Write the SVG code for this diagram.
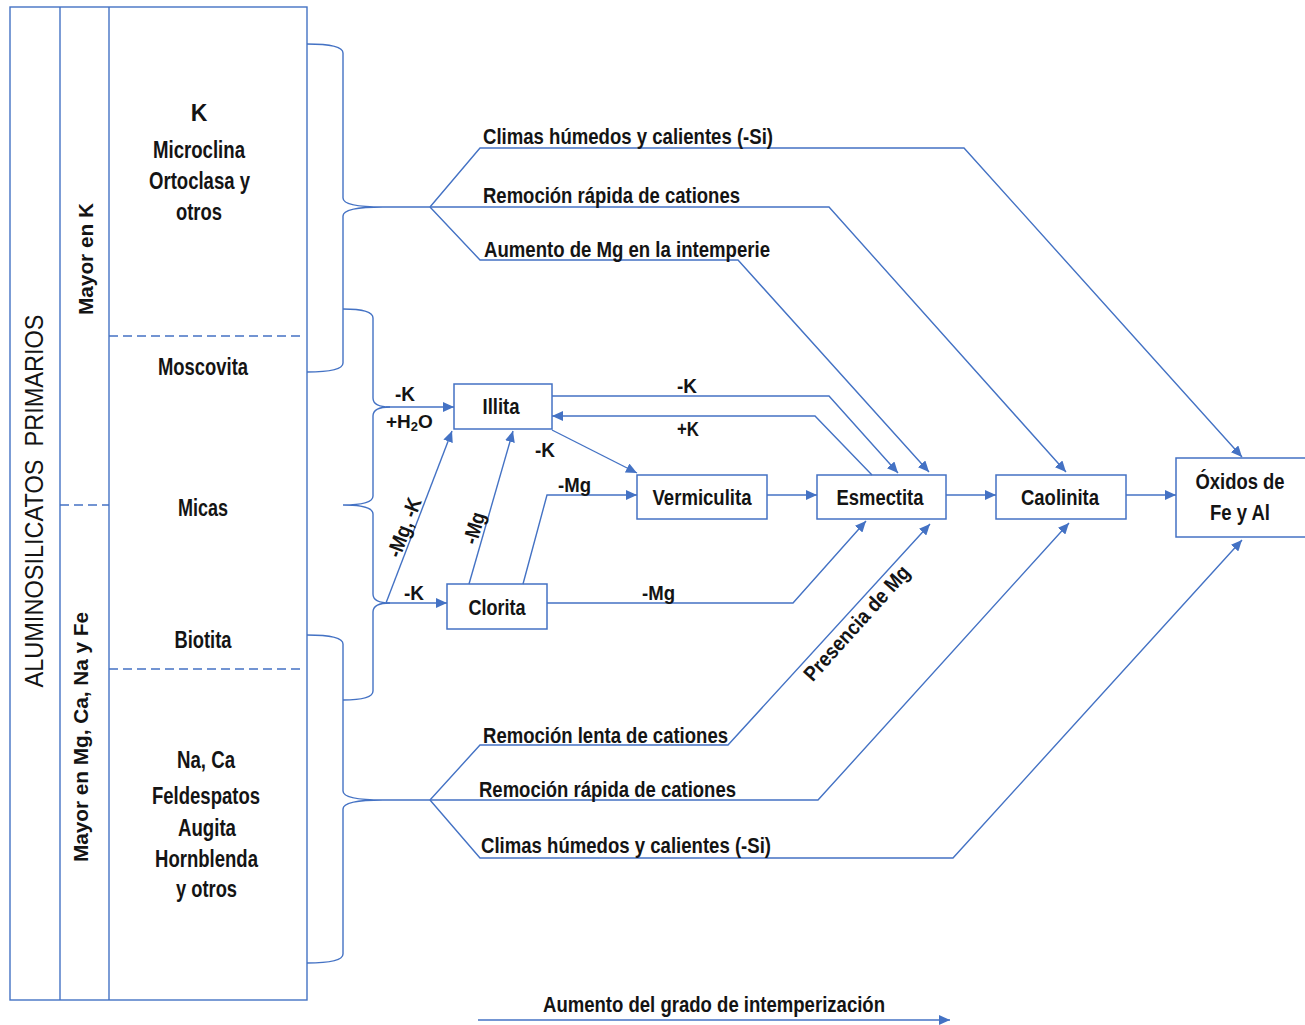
<svg xmlns="http://www.w3.org/2000/svg" width="1305" height="1025" viewBox="0 0 1305 1025">
  <defs>
    <marker id="arrow" markerUnits="userSpaceOnUse" markerWidth="12" markerHeight="10" refX="11" refY="5" orient="auto">
      <path d="M0,0 L11,5 L0,10 z" fill="#4472C4"/>
    </marker>
    <style>
      .ln { fill: none; stroke: #4472C4; stroke-width: 1.4; }
      .box { fill: #ffffff; stroke: #4472C4; stroke-width: 1.5; }
      .dash { fill: none; stroke: #4472C4; stroke-width: 1.4; stroke-dasharray: 9 5; }
      .arr { fill: none; stroke: #4472C4; stroke-width: 1.4; marker-end: url(#arrow); }
      .t { font-family: "Liberation Sans", Arial, sans-serif; font-weight: bold; font-size: 22px; fill: #141414; }
      .c { text-anchor: middle; }
      .s { font-size: 21px; }
      .col { font-size: 23px; }
      .big { font-weight: normal; font-size: 25px; }
      .h2o { font-size: 19px; }
      .sub { font-size: 13px; }
    </style>
  </defs>

  <rect width="1305" height="1025" fill="#ffffff"/>

  <!-- Left classification table -->
  <g id="table">
    <rect class="ln" x="10" y="7" width="297" height="993"/>
    <line class="ln" x1="60" y1="7" x2="60" y2="1000"/>
    <line class="ln" x1="109" y1="7" x2="109" y2="1000"/>
    <line class="dash" x1="60" y1="505" x2="109" y2="505"/>
    <line class="dash" x1="109" y1="336" x2="305" y2="336"/>
    <line class="dash" x1="109" y1="669" x2="305" y2="669"/>
    <text class="t big c" xml:space="preserve" transform="translate(43,501) rotate(-90)" textLength="373" lengthAdjust="spacingAndGlyphs">ALUMINOSILICATOS  PRIMARIOS</text>
    <text class="t c s" transform="translate(93,259) rotate(-90)" textLength="112" lengthAdjust="spacingAndGlyphs">Mayor en K</text>
    <text class="t c s" transform="translate(88,737) rotate(-90)" textLength="250" lengthAdjust="spacingAndGlyphs">Mayor en Mg, Ca, Na y Fe</text>
  </g>

  <g id="grupo-k">
    <text class="t col c" x="199" y="121">K</text>
    <text class="t col c" x="199" y="158" textLength="92" lengthAdjust="spacingAndGlyphs">Microclina</text>
    <text class="t col c" x="199.5" y="189" textLength="101" lengthAdjust="spacingAndGlyphs">Ortoclasa y</text>
    <text class="t col c" x="199" y="220" textLength="46" lengthAdjust="spacingAndGlyphs">otros</text>
  </g>
  <g id="moscovita">
    <text class="t col c" x="203" y="375" textLength="90" lengthAdjust="spacingAndGlyphs">Moscovita</text>
  </g>
  <g id="micas">
    <text class="t col c" x="203" y="516" textLength="50" lengthAdjust="spacingAndGlyphs">Micas</text>
  </g>
  <g id="biotita">
    <text class="t col c" x="203" y="648" textLength="57" lengthAdjust="spacingAndGlyphs">Biotita</text>
  </g>
  <g id="grupo-na-ca">
    <text class="t col c" x="206" y="768" textLength="58" lengthAdjust="spacingAndGlyphs">Na, Ca</text>
    <text class="t col c" x="206" y="804" textLength="108" lengthAdjust="spacingAndGlyphs">Feldespatos</text>
    <text class="t col c" x="207" y="836" textLength="58" lengthAdjust="spacingAndGlyphs">Augita</text>
    <text class="t col c" x="206.5" y="867" textLength="103" lengthAdjust="spacingAndGlyphs">Hornblenda</text>
    <text class="t col c" x="206.5" y="897" textLength="61" lengthAdjust="spacingAndGlyphs">y otros</text>
  </g>

  <!-- Clay mineral nodes -->
  <g id="illita">
    <rect class="box" x="454" y="384" width="98" height="45"/>
    <text class="t c" x="501" y="414" textLength="37" lengthAdjust="spacingAndGlyphs">Illita</text>
  </g>
  <g id="clorita">
    <rect class="box" x="447" y="584" width="100" height="45"/>
    <text class="t c" x="497" y="615" textLength="57" lengthAdjust="spacingAndGlyphs">Clorita</text>
  </g>
  <g id="vermiculita">
    <rect class="box" x="637" y="475" width="130" height="44"/>
    <text class="t c" x="702" y="505" textLength="99" lengthAdjust="spacingAndGlyphs">Vermiculita</text>
  </g>
  <g id="esmectita">
    <rect class="box" x="817" y="475" width="129" height="44"/>
    <text class="t c" x="880" y="505" textLength="87" lengthAdjust="spacingAndGlyphs">Esmectita</text>
  </g>
  <g id="caolinita">
    <rect class="box" x="996" y="475" width="130" height="44"/>
    <text class="t c" x="1060" y="505" textLength="78" lengthAdjust="spacingAndGlyphs">Caolinita</text>
  </g>
  <g id="oxidos">
    <rect class="box" x="1176" y="458" width="140" height="79"/>
    <text class="t c" x="1240" y="489" textLength="89" lengthAdjust="spacingAndGlyphs">Óxidos de</text>
    <text class="t c" x="1240" y="520" textLength="60" lengthAdjust="spacingAndGlyphs">Fe y Al</text>
  </g>

  <!-- Connectors -->
  <g id="connectors">
    <!-- braces -->
    <path class="ln" d="M307,44 Q343,44 343,53 L343,198 Q343,207 383,207 Q343,207 343,216 L343,363 Q343,372 307,372"/>
    <path class="ln" d="M343,309 Q373,309 373,318 L373,398 Q373,407 390,407 Q373,407 373,416 L373,496 Q373,505 343,505 Q373,505 373,514 L373,594 Q373,603 390,603 Q373,603 373,612 L373,691 Q373,700 343,700"/>
    <path class="ln" d="M307,635 Q343,635 343,644 L343,791 Q343,800 383,800 Q343,800 343,809 L343,954 Q343,963 307,963"/>

    <!-- upper weathering routes -->
    <polyline class="arr" points="383,207 829,207 1066,472"/>
    <polyline class="arr" points="430,207 480,148 964,148 1242,457"/>
    <polyline class="arr" points="430,207 480,260 738,260 929,472"/>

    <!-- lower weathering routes -->
    <polyline class="arr" points="383,800 818,800 1069,523"/>
    <polyline class="arr" points="430,800 480,745 728,745 930,524"/>
    <polyline class="arr" points="430,800 480,858 953,858 1242,540"/>

    <!-- mica alteration -->
    <line class="arr" x1="386" y1="407" x2="454" y2="407"/>
    <line class="arr" x1="386" y1="603" x2="447" y2="603"/>
    <line class="arr" x1="386" y1="603" x2="452" y2="431"/>
    <line class="arr" x1="469" y1="584" x2="513" y2="431"/>
    <polyline class="arr" points="523,584 547,495 637,495"/>
    <polyline class="arr" points="547,603 793,603 866,521"/>
    <line class="arr" x1="552" y1="430" x2="637" y2="473"/>
    <polyline class="arr" points="552,396 829,396 898,473"/>
    <polyline class="arr" points="872,475 815,416 552,416"/>

    <!-- main sequence -->
    <line class="arr" x1="767" y1="495" x2="817" y2="495"/>
    <line class="arr" x1="946" y1="495" x2="996" y2="495"/>
    <line class="arr" x1="1126" y1="495" x2="1176" y2="495"/>

    <!-- weathering degree axis -->
    <line class="arr" x1="478" y1="1020" x2="950" y2="1020"/>
  </g>

  <!-- Connector labels -->
  <g id="labels">
    <text class="t" x="483" y="144" textLength="290" lengthAdjust="spacingAndGlyphs">Climas húmedos y calientes (-Si)</text>
    <text class="t" x="483" y="203" textLength="257" lengthAdjust="spacingAndGlyphs">Remoción rápida de cationes</text>
    <text class="t" x="484" y="257" textLength="286" lengthAdjust="spacingAndGlyphs">Aumento de Mg en la intemperie</text>
    <text class="t" x="483" y="743" textLength="245" lengthAdjust="spacingAndGlyphs">Remoción lenta de cationes</text>
    <text class="t" x="479" y="797" textLength="257" lengthAdjust="spacingAndGlyphs">Remoción rápida de cationes</text>
    <text class="t" x="481" y="853" textLength="290" lengthAdjust="spacingAndGlyphs">Climas húmedos y calientes (-Si)</text>
    <text class="t" x="543" y="1012" textLength="342" lengthAdjust="spacingAndGlyphs">Aumento del grado de intemperización</text>

    <text class="t s" x="395" y="401" textLength="20" lengthAdjust="spacingAndGlyphs">-K</text>
    <text class="t h2o" x="386" y="428">+H<tspan class="sub" dy="3">2</tspan><tspan dy="-3">O</tspan></text>
    <text class="t s" x="535" y="457" textLength="20" lengthAdjust="spacingAndGlyphs">-K</text>
    <text class="t s" x="677" y="393" textLength="20" lengthAdjust="spacingAndGlyphs">-K</text>
    <text class="t s" x="677" y="436" textLength="22" lengthAdjust="spacingAndGlyphs">+K</text>
    <text class="t s" x="558" y="492" textLength="33" lengthAdjust="spacingAndGlyphs">-Mg</text>
    <text class="t s" x="404" y="600" textLength="20" lengthAdjust="spacingAndGlyphs">-K</text>
    <text class="t s" x="642" y="600" textLength="33" lengthAdjust="spacingAndGlyphs">-Mg</text>
    <text class="t s c" transform="translate(411,530) rotate(-69)" textLength="62" lengthAdjust="spacingAndGlyphs">-Mg, -K</text>
    <text class="t s c" transform="translate(481,530) rotate(-74)" textLength="32" lengthAdjust="spacingAndGlyphs">-Mg</text>
    <text class="t s c" transform="translate(862,628) rotate(-48)" textLength="147" lengthAdjust="spacingAndGlyphs">Presencia de Mg</text>
  </g>
</svg>
